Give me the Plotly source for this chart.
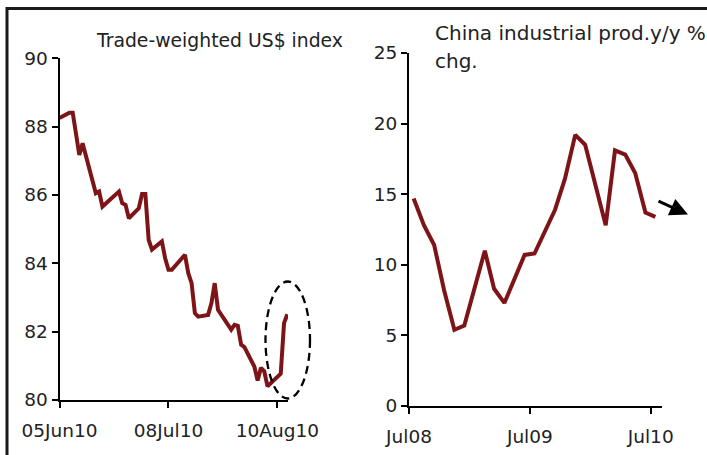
import pandas as pd
import plotly.graph_objects as go

# Trade-weighted US$ index (daily), offsets in days from 05Jun10
usd_day_offsets = [0, 3, 4, 6, 7, 10, 11, 12, 13, 18, 19, 20, 21, 24, 25, 26, 27, 28,
                   31, 32, 33, 34, 38, 39, 40, 41, 42, 45, 46, 47, 48, 52, 53, 54, 55,
                   56, 59, 60, 61, 62, 63, 67, 68, 69]
usd_index = [88.25, 88.41, 88.41, 87.17, 87.51, 86.49, 86.05, 86.10, 85.66, 86.10,
             85.76, 85.71, 85.32, 85.61, 86.03, 86.03, 84.69, 84.40, 84.64, 84.15,
             83.81, 83.81, 84.25, 83.71, 83.42, 82.54, 82.44, 82.49, 82.83, 83.42,
             82.64, 82.06, 82.20, 82.17, 81.62, 81.55, 80.98, 80.57, 80.94, 80.84,
             80.40, 80.77, 82.25, 82.51]
usd_start = pd.Timestamp("2010-06-05")
usd_dates = [usd_start + pd.Timedelta(days=d) for d in usd_day_offsets]
usd_tick_dates = ["2010-06-05", "2010-07-08", "2010-08-10"]
usd_tick_labels = ["05Jun10", "08Jul10", "10Aug10"]

# China industrial production, y/y % change (January folded into February)
ip_months = ["2008-07", "2008-08", "2008-09", "2008-10", "2008-11", "2008-12",
             "2009-02", "2009-03", "2009-04", "2009-05", "2009-06", "2009-07",
             "2009-08", "2009-09", "2009-10", "2009-11", "2009-12",
             "2010-02", "2010-03", "2010-04", "2010-05", "2010-06", "2010-07"]
ip_yoy = [14.7, 12.8, 11.4, 8.2, 5.4, 5.7,
          11.0, 8.3, 7.3, 8.9, 10.7, 10.8,
          12.3, 13.9, 16.1, 19.2, 18.5,
          12.8, 18.1, 17.8, 16.5, 13.7, 13.4]
ip_dates = [m + "-15" for m in ip_months]
ip_tick_dates = ["2008-07-01", "2009-07-01", "2010-07-01"]
ip_tick_labels = ["Jul08", "Jul09", "Jul10"]

W, H = 707, 455
LINE = "#7d1518"
TEXT = "#222222"
FONT = "DejaVu Sans"
FS = 18.5


def px(x):
    return x / W


def py(y):
    return 1 - y / H


fig = go.Figure()
fig.add_trace(go.Scatter(x=usd_dates, y=usd_index, mode="lines",
                         line=dict(color=LINE, width=4), xaxis="x", yaxis="y",
                         cliponaxis=False))
fig.add_trace(go.Scatter(x=ip_dates, y=ip_yoy, mode="lines",
                         line=dict(color=LINE, width=4), xaxis="x2", yaxis="y2",
                         cliponaxis=False))

axis_common = dict(showgrid=False, zeroline=False, showline=True, linecolor="black",
                   linewidth=2, ticks="outside", ticklen=6, tickwidth=2,
                   tickcolor="black", automargin=False,
                   tickfont=dict(family=FONT, size=FS, color=TEXT))

fig.update_layout(
    width=W, height=H,
    margin=dict(l=0, r=0, t=0, b=0, autoexpand=False),
    paper_bgcolor="white", plot_bgcolor="white",
    showlegend=False,
    xaxis=dict(domain=[px(59.5), px(288)], type="date",
               range=[usd_start, usd_start + pd.Timedelta(days=69.2)],
               tickvals=usd_tick_dates, ticktext=usd_tick_labels,
               ticklabelstandoff=7, **axis_common),
    yaxis=dict(domain=[py(400), py(58.3)], range=[80, 90], dtick=2,
               anchor="x", **axis_common),
    xaxis2=dict(domain=[px(409), px(662)], type="date",
                range=["2008-07-01", "2010-08-04"],
                tickvals=ip_tick_dates, ticktext=ip_tick_labels,
                ticklabelstandoff=7, anchor="y2", **axis_common),
    yaxis2=dict(domain=[py(406), py(53)], range=[0, 25], dtick=5,
                anchor="x2", **axis_common),
)

# panel titles
fig.add_annotation(text="Trade-weighted US$ index", xref="paper", yref="paper",
                   x=px(94), y=py(40), xanchor="left", yanchor="middle",
                   showarrow=False, font=dict(family=FONT, size=18.8, color=TEXT))
fig.add_annotation(text="China industrial prod.y/y %", xref="paper", yref="paper",
                   x=px(433), y=py(33), xanchor="left", yanchor="middle",
                   showarrow=False, font=dict(family=FONT, size=20, color=TEXT))
fig.add_annotation(text="chg.", xref="paper", yref="paper",
                   x=px(433), y=py(61), xanchor="left", yanchor="middle",
                   showarrow=False, font=dict(family=FONT, size=20, color=TEXT))

# downward-trend arrow beside the production series
fig.add_annotation(x=px(688), y=py(214.5), ax=-31, ay=-14,
                   xref="paper", yref="paper", axref="pixel", ayref="pixel",
                   text="", showarrow=True, arrowhead=2, arrowsize=1.2,
                   arrowwidth=3, arrowcolor="black")

# dashed ellipse around the latest dollar rebound
fig.add_shape(type="circle", xref="paper", yref="paper",
              x0=px(265.5), x1=px(310), y0=py(398.5), y1=py(281.5),
              line=dict(color="black", width=2.3, dash="8px,5px"))

# frame lines along the top and left edges
fig.add_shape(type="line", xref="paper", yref="paper",
              x0=px(6), x1=1, y0=py(8.5), y1=py(8.5),
              line=dict(color="#1a1a1a", width=3))
fig.add_shape(type="line", xref="paper", yref="paper",
              x0=px(7), x1=px(7), y0=py(7), y1=0,
              line=dict(color="#1a1a1a", width=3))

fig.write_html("out.html")
